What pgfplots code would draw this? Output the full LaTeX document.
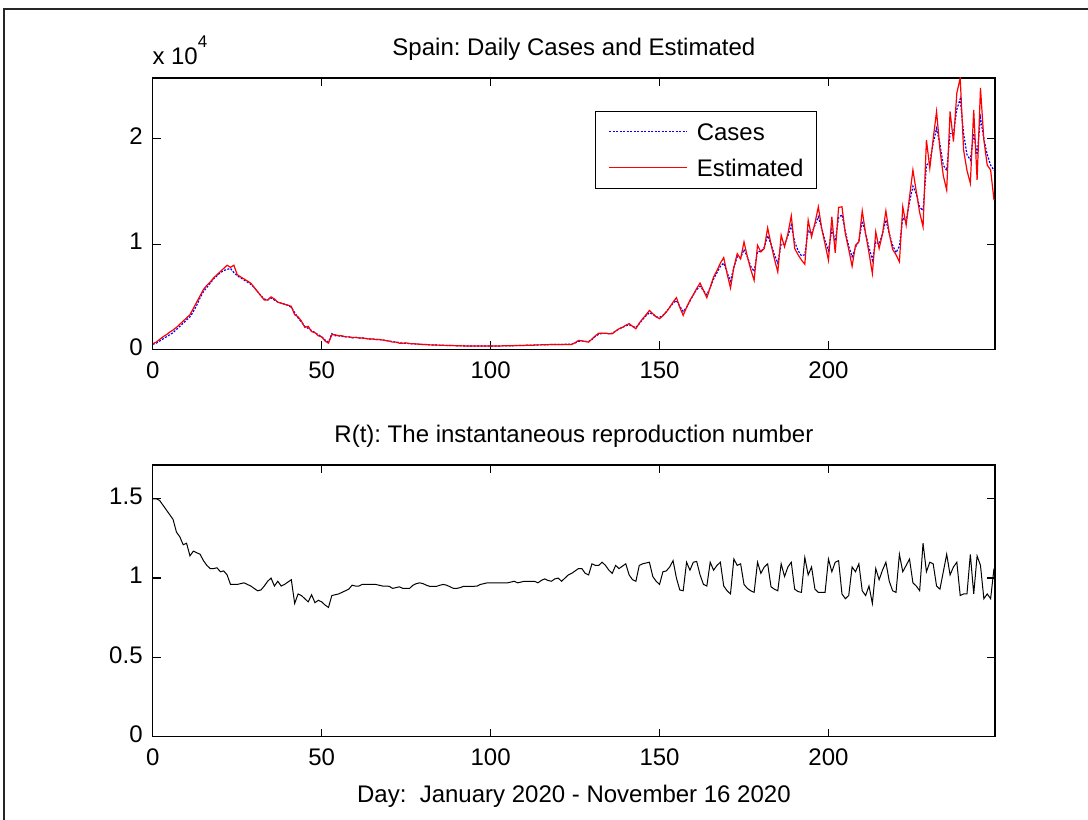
\documentclass[border=0pt]{standalone}
\usepackage{pgfplots}
\pgfplotsset{compat=1.18}
\usepackage{pgfplotstable}
\usepackage{fontspec}
\setmainfont{Liberation Sans}
\frenchspacing

\pgfplotstableread{
day cases est
0 500 550
1 600 700
2 800 950
3 1000 1200
4 1200 1400
5 1400 1650
6 1600 1850
7 1900 2100
8 2200 2400
9 2500 2700
10 2800 3000
11 3100 3300
12 3600 3900
13 4200 4500
14 4900 5100
15 5500 5700
16 5900 6100
17 6300 6400
18 6700 6800
19 7000 7100
20 7300 7400
21 7500 7700
22 7600 8000
23 7700 7800
24 7300 8000
25 7000 7100
26 6800 6900
27 6600 6700
28 6400 6500
29 6200 6300
30 5900 5900
31 5500 5500
32 5100 5100
33 4800 4700
34 4700 4700
35 4900 5000
36 4700 4800
37 4500 4500
38 4400 4400
39 4300 4300
40 4200 4200
41 4000 4100
42 3500 3300
43 3000 3100
44 2600 2700
45 2200 2100
46 2000 2200
47 1800 1700
48 1600 1600
49 1400 1300
50 1200 1200
51 900 800
52 700 600
53 1500 1400
54 1300 1400
55 1300 1300
56 1250 1300
57 1200 1200
58 1200 1200
59 1100 1150
60 1150 1150
61 1100 1100
62 1100 1100
63 1050 1050
64 1000 1000
65 1000 1000
66 950 950
67 950 950
68 900 900
69 850 850
70 800 800
71 750 700
72 700 700
73 650 600
74 600 600
75 600 620
76 560 560
77 550 540
78 520 530
79 500 500
80 480 470
81 460 470
82 450 440
83 430 430
84 420 420
85 400 410
86 400 390
87 380 390
88 380 370
89 370 370
90 360 360
91 350 350
92 350 340
93 340 340
94 340 340
95 330 330
96 330 330
97 330 330
98 330 330
99 330 330
100 330 330
101 330 340
102 340 340
103 340 340
104 350 350
105 350 360
106 360 360
107 360 370
108 370 370
109 380 380
110 390 390
111 400 410
112 400 400
113 420 420
114 430 440
115 440 440
116 450 460
117 460 460
118 470 480
119 480 480
120 480 480
121 480 480
122 490 480
123 500 480
124 520 480
125 620 650
126 780 860
127 800 820
128 770 760
129 760 700
130 950 1000
131 1250 1300
132 1450 1550
133 1530 1550
134 1530 1550
135 1500 1500
136 1550 1490
137 1750 1750
138 1950 1970
139 2100 2100
140 2250 2300
141 2350 2450
142 2200 2200
143 2100 1970
144 2450 2500
145 2850 2920
146 3200 3300
147 3500 3710
148 3350 3400
149 3100 3100
150 3050 2920
151 3250 3200
152 3600 3550
153 4000 4000
154 4400 4500
155 4650 4920
156 4100 4000
157 3600 3240
158 4000 4000
159 4600 4670
160 5200 5200
161 5700 5800
162 6000 6310
163 5600 5600
164 5200 4920
165 5900 5900
166 6700 6890
167 7300 7500
168 7900 8200
169 8200 8730
170 7300 7200
171 6500 5840
172 7800 7800
173 8800 9100
174 8700 8600
175 9500 10220
176 8800 8800
177 7900 7600
178 7400 6570
179 9300 9900
180 9300 9270
181 9700 9600
182 10800 11550
183 10000 10000
184 9000 8600
185 8200 7360
186 10000 10860
187 10000 9750
188 10800 11000
189 11800 12700
190 10200 9590
191 9400 9000
192 8900 8500
193 9000 8100
194 11300 12290
195 11000 10700
196 11800 12000
197 12600 13550
198 11500 11500
199 10300 10000
200 9400 8480
201 11400 12600
202 10300 9170
203 12500 13490
204 12800 13550
205 11200 11000
206 9800 9500
207 8800 7900
208 9700 9900
209 10300 10220
210 12200 13170
211 11000 11000
212 9700 9170
213 8500 7210
214 10200 11170
215 10000 9590
216 11000 11000
217 12300 13170
218 11000 11000
219 9900 9500
220 9200 9000
221 9800 8320
222 12500 13550
223 12200 11810
224 14000 14500
225 15500 17050
226 14800 15000
227 13500 13000
228 13200 11650
229 17500 19900
230 17800 17210
231 19600 20000
232 21000 22600
233 19500 19000
234 17500 16500
235 17000 15140
236 20500 22600
237 20500 19740
238 22800 24350
239 23800 25780
240 20500 18950
241 18500 17000
242 18000 15780
243 20500 22760
244 18500 16100
245 22000 24830
246 20000 19900
247 18500 17500
248 17500 17050
249 17000 14190
}\casestable

\pgfplotstableread{
day R
0 1.50
1 1.50
2 1.49
3 1.46
4 1.43
5 1.40
6 1.37
7 1.29
8 1.26
9 1.21
10 1.22
11 1.14
12 1.17
13 1.16
14 1.15
15 1.11
16 1.08
17 1.06
18 1.06
19 1.065
20 1.04
21 1.045
22 1.02
23 0.96
24 0.96
25 0.96
26 0.965
27 0.97
28 0.96
29 0.95
30 0.935
31 0.92
32 0.925
33 0.95
34 0.98
35 1.00
36 0.95
37 0.98
38 0.95
39 0.96
40 0.975
41 0.99
42 0.84
43 0.90
44 0.89
45 0.87
46 0.85
47 0.895
48 0.845
49 0.86
50 0.85
51 0.83
52 0.815
53 0.89
54 0.895
55 0.90
56 0.91
57 0.92
58 0.93
59 0.955
60 0.95
61 0.95
62 0.96
63 0.96
64 0.96
65 0.96
66 0.96
67 0.955
68 0.95
69 0.95
70 0.948
71 0.935
72 0.94
73 0.945
74 0.935
75 0.935
76 0.935
77 0.955
78 0.965
79 0.97
80 0.965
81 0.955
82 0.948
83 0.948
84 0.948
85 0.955
86 0.96
87 0.955
88 0.945
89 0.935
90 0.935
91 0.94
92 0.948
93 0.948
94 0.948
95 0.948
96 0.95
97 0.96
98 0.965
99 0.97
100 0.97
101 0.97
102 0.97
103 0.97
104 0.97
105 0.97
106 0.975
107 0.98
108 0.97
109 0.975
110 0.98
111 0.98
112 0.98
113 0.98
114 0.97
115 0.985
116 0.995
117 0.985
118 0.98
119 0.995
120 1.00
121 0.98
122 1.00
123 1.02
124 1.03
125 1.045
126 1.06
127 1.06
128 1.03
129 1.02
130 1.09
131 1.08
132 1.08
133 1.10
134 1.08
135 1.05
136 1.03
137 1.08
138 1.06
139 1.075
140 1.09
141 1.02
142 0.99
143 0.98
144 1.08
145 1.09
146 1.095
147 1.10
148 1.01
149 0.98
150 0.96
151 1.04
152 1.045
153 1.07
154 1.11
155 1.00
156 0.925
157 0.92
158 1.10
159 1.05
160 1.10
161 1.105
162 1.02
163 0.96
164 0.95
165 1.10
166 1.05
167 1.08
168 1.10
169 0.95
170 0.92
171 0.90
172 1.12
173 1.08
174 1.09
175 0.96
176 0.935
177 0.92
178 0.91
179 1.10
180 1.03
181 1.07
182 1.09
183 0.945
184 0.93
185 0.92
186 1.09
187 1.01
188 1.07
189 1.10
190 0.93
191 0.915
192 0.91
193 1.13
194 1.02
195 1.07
196 0.93
197 0.91
198 0.91
199 0.91
200 1.12
201 1.04
202 1.10
203 1.11
204 0.90
205 0.87
206 0.89
207 1.07
208 1.04
209 1.09
210 0.92
211 0.89
212 0.95
213 0.84
214 1.06
215 0.99
216 1.05
217 1.10
218 0.98
219 0.92
220 0.91
221 1.15
222 1.04
223 1.08
224 1.12
225 0.97
226 0.95
227 0.92
228 1.22
229 1.04
230 1.10
231 1.09
232 0.95
233 0.93
234 1.04
235 1.15
236 1.02
237 1.07
238 1.10
239 0.89
240 0.90
241 0.90
242 1.15
243 0.90
244 1.14
245 1.08
246 0.87
247 0.90
248 0.87
249 1.06
}\rtable

\pgfplotsset{
  myaxis/.style={
    scale only axis, width=842.2pt,
    xmin=0, xmax=249.3,
    axis line style={line width=1.2pt},
    every tick/.style={line width=1.2pt, black},
    major tick length=8pt,
    tick align=inside,
    xtick={0,50,100,150,200},
    font=\fontsize{24}{28}\selectfont,
    /pgf/number format/assume math mode=true,
    xticklabel style={anchor=north, inner sep=0pt, yshift=-12pt},
    yticklabel style={anchor=east, inner sep=0pt, xshift=-10pt, yshift=2.5pt},
    title style={at={(0.5,1)}, anchor=base, inner sep=0pt, yshift=16pt},
    clip=true,
  }
}

\begin{document}
\begin{tikzpicture}
\useasboundingbox (0pt,0pt) rectangle (1088pt,820pt);
\draw[line width=1.5pt, black!85] (4pt,-5pt) -- (4pt,811pt) -- (1095pt,811pt);

\begin{axis}[myaxis,
  at={(152.8pt,470.5pt)}, anchor=south west, height=271.5pt,
  ymin=0, ymax=2.578, ytick={0,1,2},
  y filter/.expression={y/10000},
  title={Spain: Daily Cases and Estimated},
  legend cell align=left,
  legend image code/.code={\draw[#1] (0pt,0pt) -- (78pt,0pt);},
  legend style={at={(rel axis cs:0.525,0.88)}, anchor=north west,
    draw=black, line width=1.2pt, fill=white,
    inner xsep=13pt, inner ysep=12pt, row sep=19pt, column sep=9pt,
    nodes={inner sep=0pt, text height=17pt, text depth=0pt},
    font=\fontsize{24}{28}\selectfont},
]
\addplot[color={rgb,255:red,0;green,0;blue,255}, dash pattern=on 2pt off 1.5pt, line width=1.2pt] table[x=day, y=cases]{\casestable};
\addlegendentry{Cases}
\addplot[red, line width=1.2pt] table[x=day, y=est]{\casestable};
\addlegendentry{Estimated}
\end{axis}
\node[anchor=base west, inner sep=0pt, font=\fontsize{24}{28}\selectfont] at (152.3pt,755pt) {x 10\raisebox{17pt}{\fontsize{17}{20}\selectfont 4}};

\begin{axis}[myaxis,
  at={(152.8pt,83.3pt)}, anchor=south west, height=271.7pt,
  ymin=0, ymax=1.713, ytick={0,0.5,1,1.5},
  title={R(t): The instantaneous reproduction number},
  xlabel={Day:\ \ January 2020 - November 16 2020},
  xlabel style={at={(axis description cs:0.5,0)}, anchor=base, inner sep=0pt, yshift=-66pt},
]
\addplot[black, line width=1pt] table[x=day, y=R]{\rtable};
\end{axis}
\end{tikzpicture}
\end{document}
